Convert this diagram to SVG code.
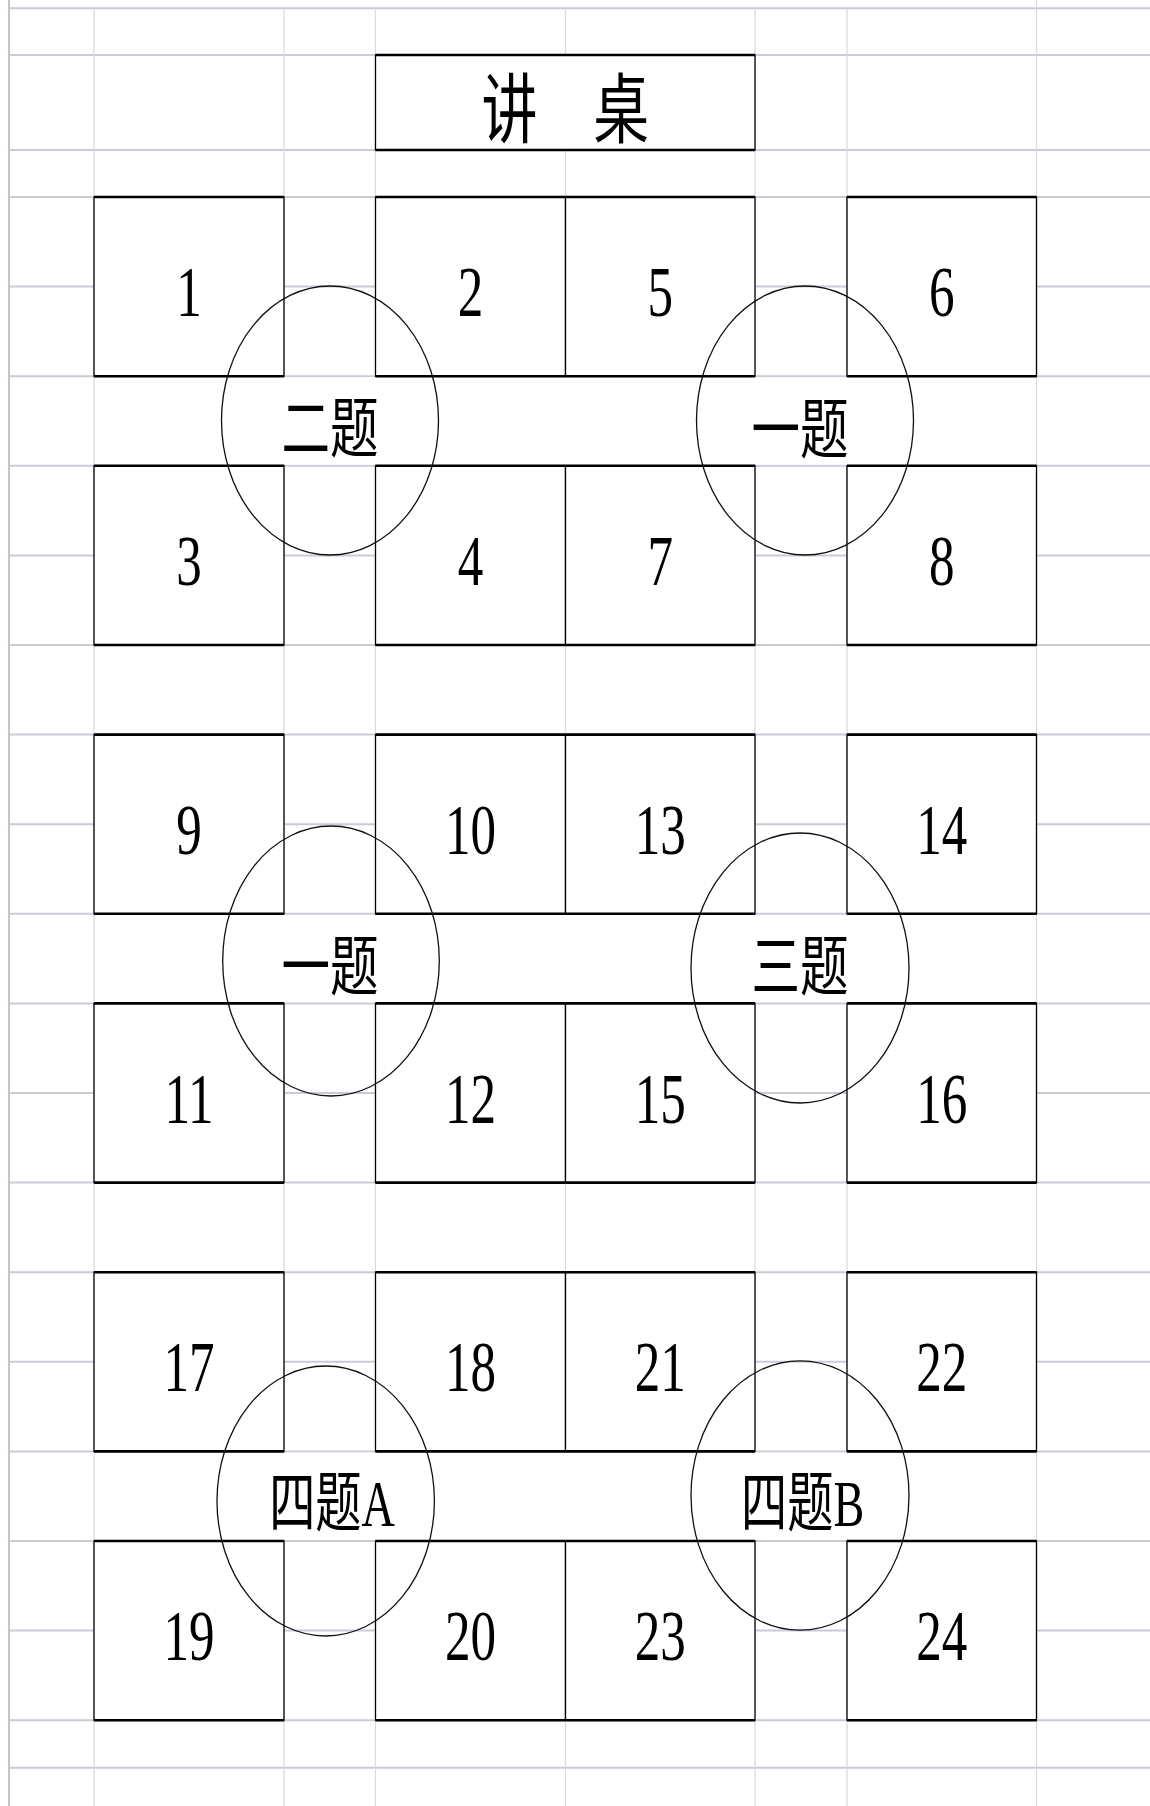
<svg xmlns="http://www.w3.org/2000/svg" width="1150" height="1806" viewBox="0 0 1150 1806">
<style>
  .gh { stroke:#c9cbd8; stroke-width:2; fill:none; }
  .gv { stroke:#d8d9e2; stroke-width:1.2; fill:none; }
  .gb { stroke:#c2c4ce; stroke-width:2; fill:none; }
  .cover { fill:#ffffff; }
  .desk { fill:#ffffff; stroke:#000000; stroke-width:1.3; }
  .edge { stroke:#000000; stroke-width:2.6; fill:none; }
  .ring { fill:none; stroke:#111111; stroke-width:1.3; }
  .num { font-family:"Liberation Serif","Noto Sans CJK SC",serif; font-size:71px; text-anchor:middle; fill:#000000; }
  .lbl { font-family:"Liberation Serif","Noto Sans CJK SC",serif; font-size:66px; text-anchor:middle; fill:#000000; }
  .title { font-family:"Noto Sans CJK SC",sans-serif; font-size:76px; text-anchor:middle; fill:#000000; }
</style>
<rect x="0" y="0" width="1150" height="1806" fill="#ffffff"/>
<g id="grid">
  <path class="gh" d="M9 8.3H1150M9 55H1150M9 150H1150M9 197H1150M9 286.6H1150M9 376.2H1150M9 465.8H1150M9 555.4H1150M9 645H1150M9 734.6H1150M9 824.2H1150M9 913.8H1150M9 1003.4H1150M9 1093H1150M9 1182.6H1150M9 1272.2H1150M9 1361.8H1150M9 1451.4H1150M9 1541H1150M9 1630.6H1150M9 1720.2H1150M9 1767.7H1150"/>
  <path class="gv" d="M94 8.3V1806M284 8.3V1806M375.5 8.3V1806M565.5 8.3V1806M755 8.3V1806M847 8.3V1806M1036.5 0V1806"/>
  <path class="gb" d="M9 0V1806"/>
  <rect class="cover" x="95" y="377.4" width="940.5" height="87.2"/>
  <rect class="cover" x="95" y="915" width="940.5" height="87.2"/>
  <rect class="cover" x="95" y="1452.6" width="940.5" height="87.2"/>
</g>
<g id="lectern">
  <rect class="desk" x="375.5" y="55" width="379.5" height="95"/>
  <path class="edge" d="M375.5 55H755M375.5 150H755"/>
  <text class="title" transform="translate(565.3,137) scale(0.735,1)">讲　桌</text>
</g>
<g id="desks">
  <g id="desk-1"><rect class="desk" x="94" y="197" width="190" height="179.2"/><path class="edge" d="M94 197H284M94 376.2H284"/><text class="num" transform="translate(189,316.4) scale(0.72,1)">1</text></g>
  <g id="desk-2"><rect class="desk" x="375.5" y="197" width="190" height="179.2"/><path class="edge" d="M375.5 197H565.5M375.5 376.2H565.5"/><text class="num" transform="translate(470.5,316.4) scale(0.72,1)">2</text></g>
  <g id="desk-5"><rect class="desk" x="565.5" y="197" width="189.5" height="179.2"/><path class="edge" d="M565.5 197H755M565.5 376.2H755"/><text class="num" transform="translate(660.3,316.4) scale(0.72,1)">5</text></g>
  <g id="desk-6"><rect class="desk" x="847" y="197" width="189.5" height="179.2"/><path class="edge" d="M847 197H1036.5M847 376.2H1036.5"/><text class="num" transform="translate(941.8,316.4) scale(0.72,1)">6</text></g>

  <g id="desk-3"><rect class="desk" x="94" y="465.8" width="190" height="179.2"/><path class="edge" d="M94 465.8H284M94 645H284"/><text class="num" transform="translate(189,585.2) scale(0.72,1)">3</text></g>
  <g id="desk-4"><rect class="desk" x="375.5" y="465.8" width="190" height="179.2"/><path class="edge" d="M375.5 465.8H565.5M375.5 645H565.5"/><text class="num" transform="translate(470.5,585.2) scale(0.72,1)">4</text></g>
  <g id="desk-7"><rect class="desk" x="565.5" y="465.8" width="189.5" height="179.2"/><path class="edge" d="M565.5 465.8H755M565.5 645H755"/><text class="num" transform="translate(660.3,585.2) scale(0.72,1)">7</text></g>
  <g id="desk-8"><rect class="desk" x="847" y="465.8" width="189.5" height="179.2"/><path class="edge" d="M847 465.8H1036.5M847 645H1036.5"/><text class="num" transform="translate(941.8,585.2) scale(0.72,1)">8</text></g>

  <g id="desk-9"><rect class="desk" x="94" y="734.6" width="190" height="179.2"/><path class="edge" d="M94 734.6H284M94 913.8H284"/><text class="num" transform="translate(189,854) scale(0.72,1)">9</text></g>
  <g id="desk-10"><rect class="desk" x="375.5" y="734.6" width="190" height="179.2"/><path class="edge" d="M375.5 734.6H565.5M375.5 913.8H565.5"/><text class="num" transform="translate(470.5,854) scale(0.72,1)">10</text></g>
  <g id="desk-13"><rect class="desk" x="565.5" y="734.6" width="189.5" height="179.2"/><path class="edge" d="M565.5 734.6H755M565.5 913.8H755"/><text class="num" transform="translate(660.3,854) scale(0.72,1)">13</text></g>
  <g id="desk-14"><rect class="desk" x="847" y="734.6" width="189.5" height="179.2"/><path class="edge" d="M847 734.6H1036.5M847 913.8H1036.5"/><text class="num" transform="translate(941.8,854) scale(0.72,1)">14</text></g>

  <g id="desk-11"><rect class="desk" x="94" y="1003.4" width="190" height="179.2"/><path class="edge" d="M94 1003.4H284M94 1182.6H284"/><text class="num" transform="translate(189,1122.8) scale(0.72,1)">11</text></g>
  <g id="desk-12"><rect class="desk" x="375.5" y="1003.4" width="190" height="179.2"/><path class="edge" d="M375.5 1003.4H565.5M375.5 1182.6H565.5"/><text class="num" transform="translate(470.5,1122.8) scale(0.72,1)">12</text></g>
  <g id="desk-15"><rect class="desk" x="565.5" y="1003.4" width="189.5" height="179.2"/><path class="edge" d="M565.5 1003.4H755M565.5 1182.6H755"/><text class="num" transform="translate(660.3,1122.8) scale(0.72,1)">15</text></g>
  <g id="desk-16"><rect class="desk" x="847" y="1003.4" width="189.5" height="179.2"/><path class="edge" d="M847 1003.4H1036.5M847 1182.6H1036.5"/><text class="num" transform="translate(941.8,1122.8) scale(0.72,1)">16</text></g>

  <g id="desk-17"><rect class="desk" x="94" y="1272.2" width="190" height="179.2"/><path class="edge" d="M94 1272.2H284M94 1451.4H284"/><text class="num" transform="translate(189,1391.2) scale(0.72,1)">17</text></g>
  <g id="desk-18"><rect class="desk" x="375.5" y="1272.2" width="190" height="179.2"/><path class="edge" d="M375.5 1272.2H565.5M375.5 1451.4H565.5"/><text class="num" transform="translate(470.5,1391.2) scale(0.72,1)">18</text></g>
  <g id="desk-21"><rect class="desk" x="565.5" y="1272.2" width="189.5" height="179.2"/><path class="edge" d="M565.5 1272.2H755M565.5 1451.4H755"/><text class="num" transform="translate(660.3,1391.2) scale(0.72,1)">21</text></g>
  <g id="desk-22"><rect class="desk" x="847" y="1272.2" width="189.5" height="179.2"/><path class="edge" d="M847 1272.2H1036.5M847 1451.4H1036.5"/><text class="num" transform="translate(941.8,1391.2) scale(0.72,1)">22</text></g>

  <g id="desk-19"><rect class="desk" x="94" y="1541" width="190" height="179.2"/><path class="edge" d="M94 1541H284M94 1720.2H284"/><text class="num" transform="translate(189,1659.8) scale(0.72,1)">19</text></g>
  <g id="desk-20"><rect class="desk" x="375.5" y="1541" width="190" height="179.2"/><path class="edge" d="M375.5 1541H565.5M375.5 1720.2H565.5"/><text class="num" transform="translate(470.5,1659.8) scale(0.72,1)">20</text></g>
  <g id="desk-23"><rect class="desk" x="565.5" y="1541" width="189.5" height="179.2"/><path class="edge" d="M565.5 1541H755M565.5 1720.2H755"/><text class="num" transform="translate(660.3,1659.8) scale(0.72,1)">23</text></g>
  <g id="desk-24"><rect class="desk" x="847" y="1541" width="189.5" height="179.2"/><path class="edge" d="M847 1541H1036.5M847 1720.2H1036.5"/><text class="num" transform="translate(941.8,1659.8) scale(0.72,1)">24</text></g>
</g>
<g id="groups">
  <g id="group-q2-top"><ellipse class="ring" cx="330" cy="420.5" rx="108.5" ry="134.5"/><text class="lbl" transform="translate(330,452) scale(0.735,1)">二题</text></g>
  <g id="group-q1-top"><ellipse class="ring" cx="805" cy="420.5" rx="108.5" ry="134.5"/><text class="lbl" transform="translate(800,453) scale(0.735,1)">一题</text></g>
  <g id="group-q1-mid"><ellipse class="ring" cx="331" cy="961" rx="108.3" ry="135"/><text class="lbl" transform="translate(330,990) scale(0.735,1)">一题</text></g>
  <g id="group-q3-mid"><ellipse class="ring" cx="800" cy="968" rx="109" ry="135"/><text class="lbl" transform="translate(800,990) scale(0.735,1)">三题</text></g>
  <g id="group-q4a"><ellipse class="ring" cx="325.7" cy="1501" rx="108.7" ry="135"/><text class="lbl" transform="translate(332,1526) scale(0.7,1)">四题A</text></g>
  <g id="group-q4b"><ellipse class="ring" cx="800" cy="1495.5" rx="109" ry="134.7"/><text class="lbl" transform="translate(802.6,1526) scale(0.7,1)">四题B</text></g>
</g>
</svg>
